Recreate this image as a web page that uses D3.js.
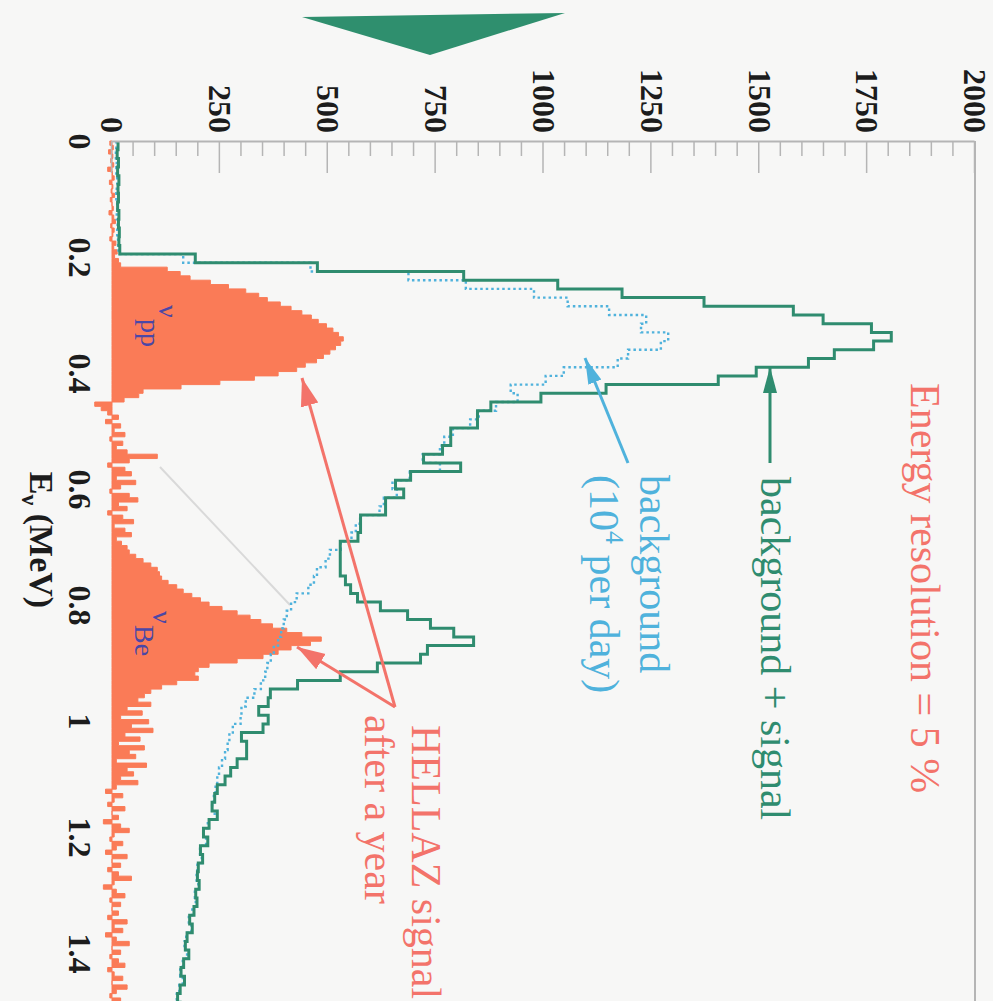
<!DOCTYPE html>
<html>
<head>
<meta charset="utf-8">
<script src="https://cdn.jsdelivr.net/npm/d3@7"></script>
<style>
  body { margin: 0; background: #f7f7f6; }
  svg { display: block; }
</style>
</head>
<body>
<svg id="chart" width="993" height="1001"></svg>
<script>
// Histogram binning (MeV)
const energyDomain = [0, 1.5];
const coarseBinWidth = 0.015;   // background and background + signal
const fineBinWidth = 0.0075;    // HELLAZ signal after a year

// Counts per coarse bin: background + signal
const backgroundPlusSignal = [
  14, 12, 15, 13, 16, 14, 15, 13, 16, 15, 17, 16, 18,
  193, 476, 815, 1033, 1182, 1372, 1579, 1648, 1760, 1806, 1765,
  1674, 1614, 1493, 1405, 1145, 994, 878, 847, 847, 785, 785, 766, 722, 808, 692, 657,
  676, 634, 634, 576, 576, 570, 529, 529, 529, 529,
  541, 553, 569, 622, 685, 738, 792, 838, 731, 715,
  615, 529, 430, 367, 362, 340, 362, 350, 300, 312,
  312, 290, 275, 262, 244, 238, 232, 244, 225, 212,
  222, 205, 210, 200, 198, 202, 194, 197, 190, 180,
  186, 174, 170, 178, 166, 160, 168, 158, 152, 158
];

// Counts per coarse bin: background (10^4 per day)
const background = [
  10, 9, 11, 10, 12, 11, 10, 12, 11, 13, 12, 14, 15,
  165, 460, 687, 820, 978, 1056, 1152, 1238, 1226, 1289, 1272,
  1196, 1172, 1047, 1005, 924, 940, 890, 850, 830, 790, 770, 760, 720, 760, 690, 650,
  660, 630, 620, 575, 565, 555, 530, 505, 495, 475,
  468, 455, 428, 415, 405, 398, 392, 385, 375, 368,
  360, 355, 345, 330, 310, 300, 298, 280, 272, 268,
  262, 255, 248, 244, 240, 236, 232, 238, 222, 212,
  218, 204, 208, 198, 196, 200, 192, 194, 186, 178,
  184, 172, 168, 174, 164, 158, 164, 156, 150, 156
];

// Counts per fine bin: HELLAZ signal after a year
const hellazSignal = [
  -5, 3, -8, 2, -3, 4, -10, 1, 5, -6, 2, -2, 6, -4, 0, 3, -7, 4, 8, -3, 5, 2, -5, 9, 4, 12, 6, 15, 20,
  128, 158, 181, 228, 270, 310, 340, 360, 390, 415, 440, 462, 478, 497, 512,
  525, 536, 530, 518, 505, 490, 474, 448, 428, 385, 330, 250, 160, 72, 62, 28,
  -40, -25, -10, 15, -15, 20, 5, 30, -5, 25, 10, 35, 105, 40, -10, 30, 45, 10, 55, 20,
  -5, 40, 60, 15, 35, -10, 25, 50, 5, 30, 45,
  10, 22, 35, 40, 55, 72, 90, 105, 110, 115, 130, 150, 165, 185, 205, 225, 255, 290, 320, 345,
  372, 405, 440, 485, 460, 415, 385, 350, 290, 225, 200, 192, 200, 150, 115, 90, 75,
  60, 90, 35, 70, 20, 85, 45, 95, 30, 65, 15, 75, 40, 55, 10, 80, 35, 50, 20, 60,
  10, -15, 25, 5, -10, 30, 0, 15, -20, 20, 40, 5, -5, 25, 10, -15, 35, 0, 20, -10,
  15, 45, 5, -20, 10, 30, -5, 20, 0, 15, -10, 35, 5, 25, -15, 10, 40, 0, 20, -5,
  15, 30, -10, 5, 25, 0, 35, 10, -5, 20, 5, 15
];

const countMajorTicks = [0, 250, 500, 750, 1000, 1250, 1500, 1750, 2000];
const countMinorTicks = d3.range(0, 2001, 50).filter(v => v % 250 !== 0);
const energyTicks = [0, 0.2, 0.4, 0.6, 0.8, 1, 1.2, 1.4];
const energyTickLabels = ["0", "0.2", "0.4", "0.6", "0.8", "1", "1.2", "1.4"];

const colors = {
  total: "#2f8c6f",
  background: "#4fb2dc",
  signal: "#fa7b57",
  note: "#f3736a",
  nu: "#4b47a6",
  axis: "#b5b5b5",
  tickText: "#1c1c1c"
};
const serif = "'Liberation Serif', 'Times New Roman', serif";

const svg = d3.select("#chart");
svg.append("rect").attr("width", 993).attr("height", 1001).attr("fill", "#f7f7f6");

// The figure is laid out in its own frame and turned a quarter turn clockwise.
const g = svg.append("g").attr("transform", "translate(993,0) rotate(90)");

const x = d3.scaleLinear().domain(energyDomain).range([141, 1011]);
const y = d3.scaleLinear().domain([0, 2000]).range([881, 18]);

// Frame opposite the count axis
g.append("line")
  .attr("x1", x(0)).attr("x2", x(1.5))
  .attr("y1", y(2000)).attr("y2", y(2000))
  .attr("stroke", colors.axis).attr("stroke-width", 2);

// Faint diagonal line in the gap between the peaks
g.append("line")
  .attr("x1", 467).attr("y1", 833).attr("x2", 605).attr("y2", 703)
  .attr("stroke", "#d9d9d9").attr("stroke-width", 2);

// Step helpers
function stepPoints(values, width) {
  const pts = [];
  values.forEach((v, i) => {
    pts.push([i * width, v]);
    pts.push([(i + 1) * width, v]);
  });
  return pts;
}

// HELLAZ signal (filled)
const signalArea = d3.area()
  .x(d => x(d[0]))
  .y0(y(0))
  .y1(d => y(d[1]));
g.append("path")
  .datum(stepPoints(hellazSignal, fineBinWidth))
  .attr("d", signalArea)
  .attr("fill", colors.signal)
  .attr("stroke", colors.signal)
  .attr("stroke-width", 1);

const stepLine = d3.line().x(d => x(d[0])).y(d => y(d[1]));

// Background (dotted)
g.append("path")
  .datum(stepPoints(background, coarseBinWidth))
  .attr("d", stepLine)
  .attr("fill", "none")
  .attr("stroke", colors.background)
  .attr("stroke-width", 2.4)
  .attr("stroke-dasharray", "2.5 3");

// Background + signal (solid)
g.append("path")
  .datum(stepPoints(backgroundPlusSignal, coarseBinWidth))
  .attr("d", stepLine)
  .attr("fill", "none")
  .attr("stroke", colors.total)
  .attr("stroke-width", 3);

// Count axis with major and minor ticks
const majorAxis = d3.axisLeft(y)
  .tickValues(countMajorTicks)
  .tickFormat(d3.format("d"))
  .tickSizeInner(-32).tickSizeOuter(0).tickPadding(8);
const axG = g.append("g").attr("transform", `translate(${x(0)},0)`).call(majorAxis);
axG.select(".domain").attr("stroke", colors.axis).attr("stroke-width", 2);
axG.selectAll(".tick line").attr("stroke", colors.axis).attr("stroke-width", 1.5);
axG.selectAll(".tick text")
  .attr("font-family", serif).attr("font-weight", "bold")
  .attr("font-size", 32).attr("fill", colors.tickText);

const minorAxis = d3.axisLeft(y)
  .tickValues(countMinorTicks)
  .tickSizeInner(-15).tickSizeOuter(0).tickFormat("");
const mnG = g.append("g").attr("transform", `translate(${x(0)},0)`).call(minorAxis);
mnG.select(".domain").remove();
mnG.selectAll(".tick line").attr("stroke", colors.axis).attr("stroke-width", 1.5);

// Energy axis labels
const energyAxis = d3.axisBottom(x)
  .tickValues(energyTicks)
  .tickSize(0).tickPadding(20)
  .tickFormat((d, i) => energyTickLabels[i]);
const exG = g.append("g").attr("transform", `translate(0,${y(0)})`).call(energyAxis);
exG.select(".domain").remove();
exG.selectAll(".tick text")
  .attr("font-family", serif).attr("font-weight", "bold")
  .attr("font-size", 32).attr("fill", colors.tickText);

// Energy axis title
const title = g.append("text")
  .attr("x", 540).attr("y", 963)
  .attr("text-anchor", "middle")
  .attr("font-family", serif).attr("font-weight", "bold")
  .attr("font-size", 34).attr("fill", colors.tickText);
title.append("tspan").text("E");
title.append("tspan").attr("dy", 8).attr("font-size", 24).text("ν");
title.append("tspan").attr("dy", -8).text(" (MeV)");

// Peak labels
function nuLabel(px, py, sub) {
  g.append("text").attr("x", px).attr("y", py)
    .attr("font-family", serif).attr("font-size", 28).attr("fill", colors.nu).text("ν");
  g.append("text").attr("x", px + 14).attr("y", py + 18)
    .attr("font-family", serif).attr("font-size", 28).attr("fill", colors.nu).text(sub);
}
nuLabel(305, 834, "pp");
nuLabel(611, 840, "Be");

// Arrow heads
const defs = svg.append("defs");
function arrowMarker(id, color, len, wid) {
  defs.append("marker")
    .attr("id", id)
    .attr("markerUnits", "userSpaceOnUse")
    .attr("viewBox", `0 ${-wid} ${len} ${2 * wid}`)
    .attr("refX", len).attr("refY", 0)
    .attr("markerWidth", len).attr("markerHeight", 2 * wid)
    .attr("orient", "auto")
    .append("path")
    .attr("d", `M0,${-wid / 2}L${len},0L0,${wid / 2}Z`)
    .attr("fill", color);
}
arrowMarker("arrowTotal", colors.total, 26, 14);
arrowMarker("arrowBackground", colors.background, 26, 14);
arrowMarker("arrowSignal", colors.note, 28, 18);

function arrow(x1, y1, x2, y2, color, marker, width) {
  g.append("line")
    .attr("x1", x1).attr("y1", y1).attr("x2", x2).attr("y2", y2)
    .attr("stroke", color).attr("stroke-width", width)
    .attr("marker-end", `url(#${marker})`);
}
arrow(463, 223, 367, 223, colors.total, "arrowTotal", 3);
arrow(463, 365, 358, 408, colors.background, "arrowBackground", 3);
arrow(707, 598, 378, 691, colors.note, "arrowSignal", 3);
arrow(707, 598, 647, 696, colors.note, "arrowSignal", 3);

// Annotations
function note(tx, ty, color, text) {
  return g.append("text").attr("x", tx).attr("y", ty)
    .attr("font-family", serif).attr("font-size", 42).attr("fill", color).text(text);
}
note(383, 82, colors.note, "Energy resolution = 5 %");
note(477, 232, colors.total, "background + signal");
note(475, 353, colors.background, "background");
const perDay = g.append("text").attr("x", 475).attr("y", 403)
  .attr("font-family", serif).attr("font-size", 42).attr("fill", colors.background);
perDay.append("tspan").text("(10");
perDay.append("tspan").attr("dy", -16).attr("font-size", 26).text("4");
perDay.append("tspan").attr("dy", 16).text(" per day)");
note(725, 581, colors.note, "HELLAZ signal");
note(715, 628, colors.note, "after a year");

// Green pennant at the top of the page
g.append("polygon")
  .attr("points", [[17, 691], [13, 428], [55, 563]].map(p => p.join(",")).join(" "))
  .attr("fill", "#2f8f6e");
</script>
</body>
</html>
